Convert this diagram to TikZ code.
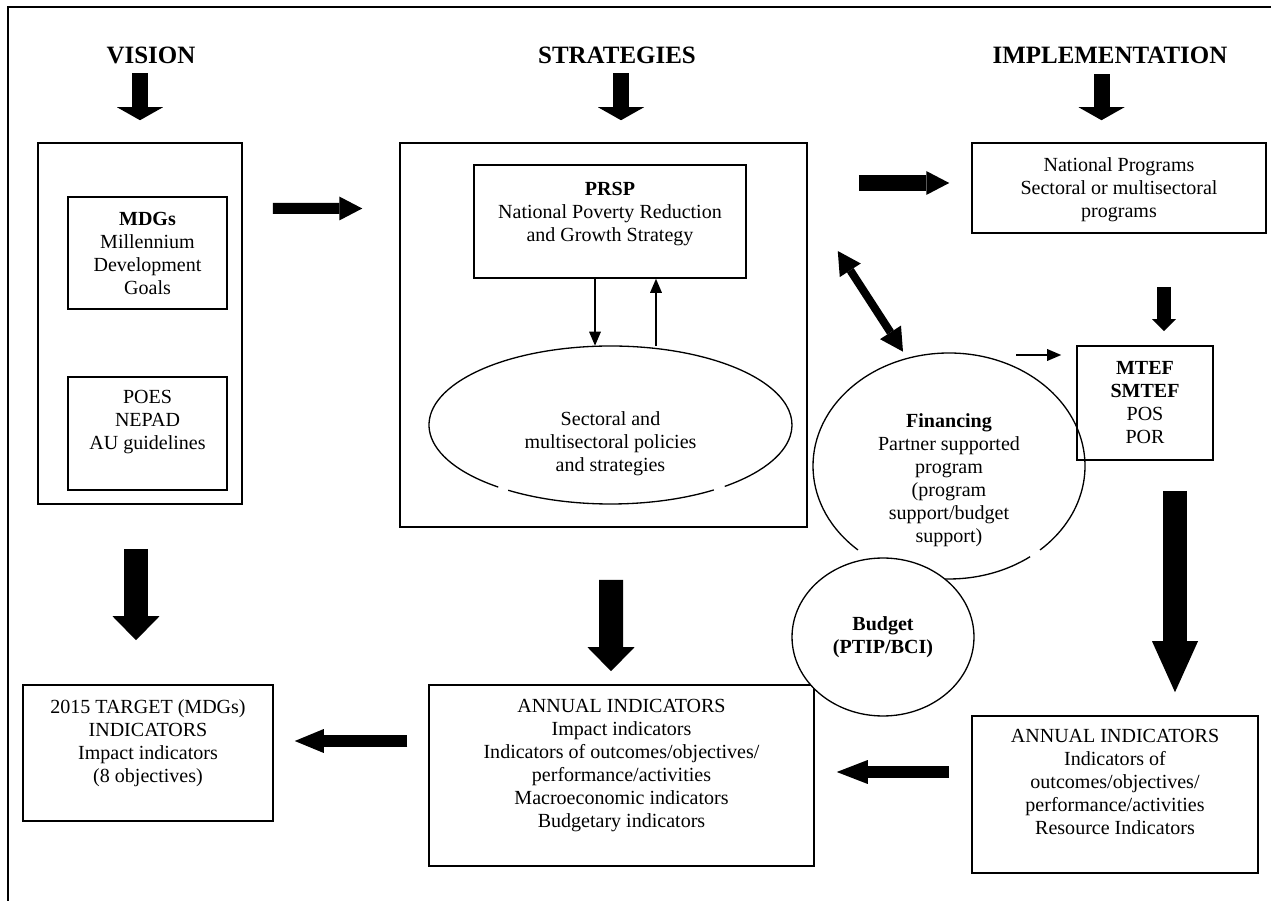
\documentclass[tikz,border=0pt]{standalone}
\usepackage{fontspec}
\setmainfont{Liberation Serif}
\usetikzlibrary{arrows.meta,positioning,shapes.geometric}
\begin{document}
\begin{tikzpicture}[
        x=0.02cm, y=-0.02cm,
        font=\fontsize{11.4}{13.1}\selectfont,
        fw title/.style ={inner sep=0, font=\fontsize{14.2}{16}\selectfont\bfseries},
        fw box/.style   ={draw, line width=0.9pt, inner sep=0},
        fw oval/.style  ={shape=ellipse, inner sep=0},
        fw line/.style  ={line width=0.75pt},
        fw text/.style  ={align=center, inner sep=0},
        fw arrow/.style n args={3}{line width=#1, -{Triangle[width=#2, length=#3, line width=0pt]}},
        fw twoway/.style={line width=0.16cm,
                {Triangle[width=0.5cm, length=0.46cm, line width=0pt]}-{Triangle[width=0.5cm, length=0.46cm, line width=0pt]}},
        fw thin/.style  ={line width=0.75pt, -{Triangle[width=0.24cm, length=0.28cm, line width=0pt]}}
    ]
    \useasboundingbox (0,0) rectangle (1271,901);
    %% --- outer frame (only top and left edges show) -------------------------
    \draw[line width=0.9pt] (1271,7) -- (8,7) -- (8,901);

    %% --- column titles -------------------------------------------------------
    \node[fw title] (visT)  at (151,55)  {VISION};
    \node[fw title] (stratT) at (617,55) {STRATEGIES};
    \node[fw title] (implT) at (1110,55) {IMPLEMENTATION};

    %% --- vision column -------------------------------------------------------
    \node[fw box, minimum width=4.08cm, minimum height=7.22cm] (visbox) at (140,323.5) {};
    \node[fw box, minimum width=3.18cm, minimum height=2.24cm] (mdg) at (147.5,253) {};
    \node[fw text, below=0.32cm of mdg.north] (mdgT) {\textbf{MDGs}\\Millennium\\Development\\Goals};
    \node[fw box, minimum width=3.18cm, minimum height=2.26cm] (poes) at (147.5,433.5) {};
    \node[fw text, below=0.28cm of poes.north] (poesT) {POES\\NEPAD\\AU guidelines};

    %% --- strategies column ---------------------------------------------------
    \node[fw box, minimum width=8.14cm, minimum height=7.68cm] (stratbox) at (603.5,335) {};
    \node[fw box, minimum width=5.44cm, minimum height=2.26cm] (prsp) at (610,221.5) {};
    \node[fw text, below=0.36cm of prsp.north] (prspT) {\textbf{PRSP}\\National Poverty Reduction\\and Growth Strategy};
    \node[fw oval, minimum width=7.26cm, minimum height=3.16cm] (pol) at (610.5,425) {};
    \draw[fw line] ([shift={(128.2:181.5 and 79)}]pol.center) arc[start angle=128.2, end angle=411, x radius=181.5, y radius=79];
    \draw[fw line] ([shift={(55.3:181.5 and 79)}]pol.center) arc[start angle=55.3, end angle=124.3, x radius=181.5, y radius=79];
    \node[fw text] (polT) at ([yshift=-0.38cm]pol.center) {Sectoral and\\multisectoral policies\\and strategies};
    \coordinate (dn) at ([xshift=-0.3cm]prsp.south);
    \coordinate (up) at ([xshift=0.92cm]prsp.south);
    \draw[fw thin] (dn) -- (dn |- pol.north);
    \draw[fw thin] (up |- pol.north) -- (up);

    %% --- implementation column -----------------------------------------------
    \node[fw box, minimum width=5.88cm, minimum height=1.80cm] (nat) at (1119,188) {};
    \node[fw text, below=0.30cm of nat.north] (natT) {National Programs\\Sectoral or multisectoral\\programs};
    \node[fw box, minimum width=2.72cm, minimum height=2.28cm] (mtef) at (1145,403) {};
    \node[fw text, below=0.32cm of mtef.north] (mtefT) {\textbf{MTEF}\\\textbf{SMTEF}\\POS\\POR};
    \node[fw oval, minimum width=5.44cm, minimum height=4.52cm] (fin) at (949,466) {};
    \draw[fw line] ([shift={(132:136 and 113)}]fin.center) arc[start angle=132, end angle=408, x radius=136, y radius=113];
    \draw[fw line] ([shift={(53.4:136 and 113)}]fin.center) arc[start angle=53.4, end angle=125, x radius=136, y radius=113];
    \node[fw text] (finT) at ([yshift=-0.28cm]fin.center) {\textbf{Financing}\\Partner supported\\program\\(program\\support/budget\\support)};
    \draw[fw thin] ([shift={(-60,-48)}]mtef.west) -- ([shift={(-15,-48)}]mtef.west);

    %% --- indicators row ------------------------------------------------------
    \node[fw box, minimum width=5.00cm, minimum height=2.72cm] (target) at (148,753) {};
    \node[fw text, below=0.30cm of target.north] (targetT) {2015 TARGET (MDGs)\\INDICATORS\\Impact indicators\\(8 objectives)};
    \node[fw box, minimum width=7.70cm, minimum height=3.62cm] (cann) at (621.5,775.5) {};
    \node[fw text, below=0.30cm of cann.north] (cannT) {ANNUAL INDICATORS\\Impact indicators\\Indicators of outcomes/objectives/\\performance/activities\\Macroeconomic indicators\\Budgetary indicators};
    \node[fw box, minimum width=5.72cm, minimum height=3.14cm] (rann) at (1115,794.5) {};
    \node[fw text, below=0.28cm of rann.north] (rannT) {ANNUAL INDICATORS\\Indicators of\\outcomes/objectives/\\performance/activities\\Resource Indicators};
    \node[fw oval, fw text, draw, fw line, fill=white, font=\fontsize{11.4}{13.1}\selectfont\bfseries,
          minimum width=3.64cm, minimum height=3.16cm] (budget) at (883,637) {Budget\\(PTIP/BCI)};

    %% --- block arrows --------------------------------------------------------
    \draw[fw arrow={0.32cm}{0.92cm}{0.26cm}] ([shift={(0,-69)}]visbox.north) -- ([shift={(0,-22)}]visbox.north);
    \draw[fw arrow={0.32cm}{0.92cm}{0.26cm}] ([shift={(17.5,-69)}]stratbox.north) -- ([shift={(17.5,-22)}]stratbox.north);
    \draw[fw arrow={0.32cm}{0.92cm}{0.26cm}] ([shift={(-17.5,-68)}]nat.north) -- ([shift={(-17.5,-22)}]nat.north);
    \draw[fw arrow={0.22cm}{0.48cm}{0.46cm}] ([shift={(30,-115)}]visbox.east) -- ([shift={(-37,-126.5)}]stratbox.west);
    \draw[fw arrow={0.32cm}{0.48cm}{0.46cm}] ([shift={(51,-152)}]stratbox.east) -- ([shift={(-22,-5)}]nat.west);
    \draw[fw arrow={0.28cm}{0.48cm}{0.24cm}] ([shift={(45,53)}]nat.south) -- ([shift={(19,-14)}]mtef.north);
    \draw[fw arrow={0.48cm}{0.92cm}{1.02cm}] ([shift={(30,30)}]mtef.south) -- ([shift={(60,-23)}]rann.north);
    \draw[fw arrow={0.48cm}{0.94cm}{0.48cm}] ([shift={(-4,44)}]visbox.south) -- ([shift={(-12,-44)}]target.north);
    \draw[fw arrow={0.48cm}{0.94cm}{0.48cm}] ([shift={(7.5,52)}]stratbox.south) -- ([shift={(-10.5,-13)}]cann.north);
    \draw[fw arrow={0.24cm}{0.48cm}{0.58cm}] ([shift={(-21,-34.5)}]cann.west) -- ([shift={(21,-12)}]target.east);
    \draw[fw arrow={0.24cm}{0.48cm}{0.62cm}] ([shift={(-22,-22.5)}]rann.west) -- ([shift={(22,-3.5)}]cann.east);
    \draw[fw twoway] ([shift={(91,29.5)}]prsp.east) -- ([shift={(-46,-1)}]fin.north);
\end{tikzpicture}
\end{document}
